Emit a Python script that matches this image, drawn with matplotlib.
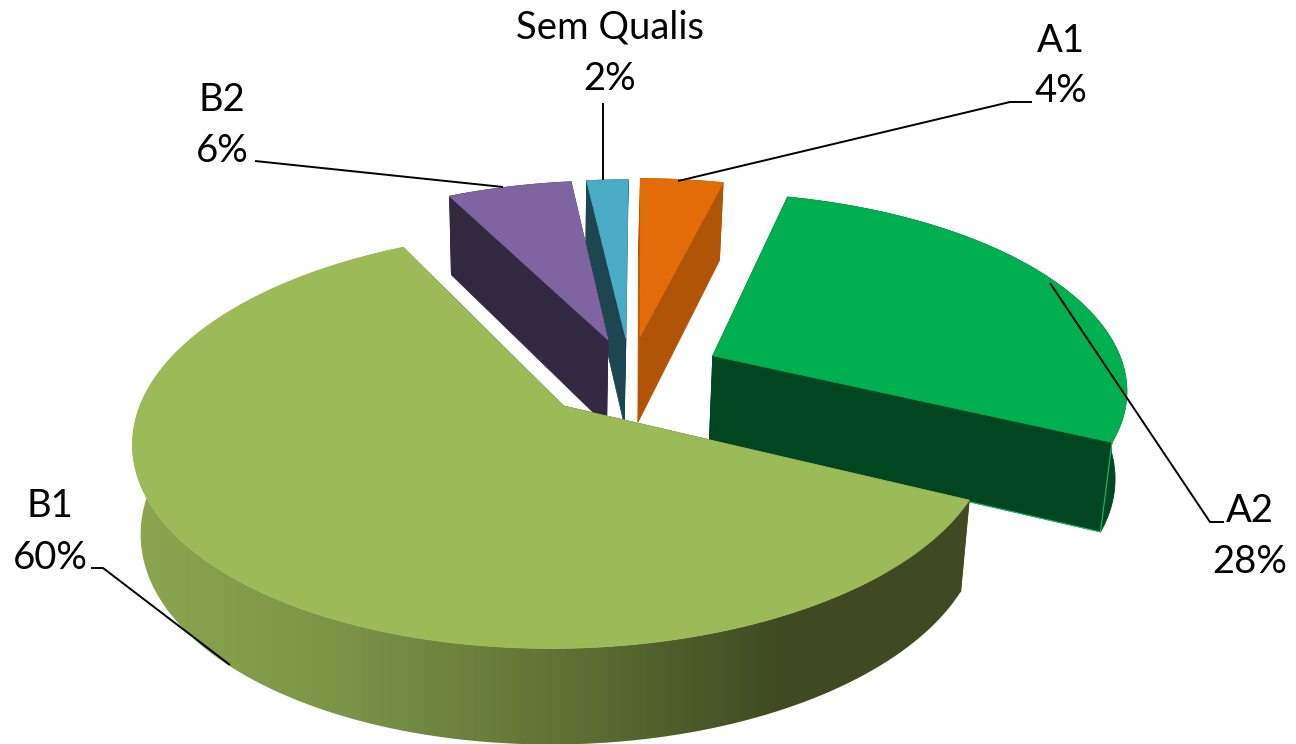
import numpy as np
import matplotlib
matplotlib.use("Agg")
import matplotlib.pyplot as plt
from matplotlib.colors import LinearSegmentedColormap
from matplotlib.patches import Polygon

categories = ["A1", "A2", "B1", "B2", "Sem Qualis"]
values = [3.8, 28.2, 60.4, 5.7, 1.9]
explode = [0.2, 0.225, 0.225, 0.19, 0.19]
top_colors = ["#E36C09", "#00AF50", "#9BBB59", "#8064A2", "#4BACC6"]
side_colors = ["#B05507", "#004620", "#3F4A22", "#322840", "#1E4650"]
draw_order = [0, 4, 3, 1, 2]

label_xy = [(1061, 41, 91), (1250, 511, 562), (50, 506, 558), (222, 100, 151), (610, 28, 79)]
leaders = [
    [(678, 181), (1010, 102), (1032, 102)],
    [(1050, 283), (1210, 522), (1224, 522)],
    [(230, 665), (103, 568), (91, 568)],
    [(503, 187), (255, 161)],
    [(603, 180), (603, 103)],
]

CX, CY, A, B, K = 630.0, 374.0, 413.0, 193.5, 0.156
DEPTH, DEPTH_K, SHRINK, SHRINK_X = 87.0, 0.09, 0.98, 540.0
START = 0.3


def project(u, v, lower=False):
    u, v = np.asarray(u, float), np.asarray(v, float)
    w = 1 + K * v
    x = CX + A * u / w
    y = CY - B * v / w
    if lower:
        y = y + DEPTH * (1 - DEPTH_K * v)
        x = SHRINK_X + (x - SHRINK_X) * SHRINK
    return np.column_stack([x, y])


fig = plt.figure(figsize=(12.96, 7.44), dpi=100)
ax = fig.add_axes([0, 0, 1, 1])
ax.axis("off")

fractions = np.array(values, float) / sum(values)
edges = START + 360 * np.concatenate([[0], np.cumsum(fractions)])
gradient = LinearSegmentedColormap.from_list(
    "wall", ["#8BA64F", "#7A9346", "#5E7235", "#3F4A22", "#3F4A22"])

z = 2.0
for i in draw_order:
    t = np.radians(np.linspace(edges[i], edges[i + 1], 160))
    mid = np.radians((edges[i] + edges[i + 1]) / 2)
    ox, oy = explode[i] * np.sin(mid), explode[i] * np.cos(mid)
    au, av = ox + np.sin(t), oy + np.cos(t)
    arc_top = project(au, av)
    arc_low = project(au, av, True)
    apex_top = project([ox], [oy])
    apex_low = project([ox], [oy], True)

    for k in (0, -1):
        face = np.vstack([apex_top, arc_top[k], arc_low[k], apex_low])
        ax.add_patch(Polygon(face, closed=True, fc=side_colors[i], ec=side_colors[i], lw=0.6, zorder=z))

    wall = np.vstack([arc_top, arc_low[::-1]])
    if categories[i] == "B1":
        patch = Polygon(wall, closed=True, fc="none", ec="none", zorder=z + 0.1)
        ax.add_patch(patch)
        img = ax.imshow(np.linspace(0, 1, 256)[None, :], extent=(130, 1000, 744, 0), cmap=gradient,
                        aspect="auto", zorder=z + 0.1, interpolation="bilinear")
        img.set_clip_path(patch)
    else:
        ax.add_patch(Polygon(wall, closed=True, fc=side_colors[i], ec=side_colors[i], lw=0.6, zorder=z + 0.1))
    if categories[i] == "A2":
        seam = np.vstack([apex_low, arc_low[-1], arc_top[-1]])
        ax.plot(seam[:, 0], seam[:, 1], color="#1FB96A", lw=0.8, zorder=z + 0.15)

    top = np.vstack([apex_top, arc_top])
    ax.add_patch(Polygon(top, closed=True, fc=top_colors[i], ec=top_colors[i], lw=0.6, zorder=z + 0.2))
    z += 1

ax.set_xlim(0, 1296)
ax.set_ylim(744, 0)

for pts in leaders:
    xs, ys = zip(*pts)
    ax.plot(xs, ys, color="black", lw=1.4, zorder=20, solid_capstyle="butt")

for name, val, (x, y1, y2) in zip(categories, values, label_xy):
    ax.text(x, y1, name, ha="center", va="center", fontsize=27.5, family="Lato", color="black", zorder=21)
    ax.text(x, y2, f"{round(val)}%", ha="center", va="center", fontsize=27.5, family="Lato", color="black", zorder=21)

fig.savefig("out.png", dpi=100)
